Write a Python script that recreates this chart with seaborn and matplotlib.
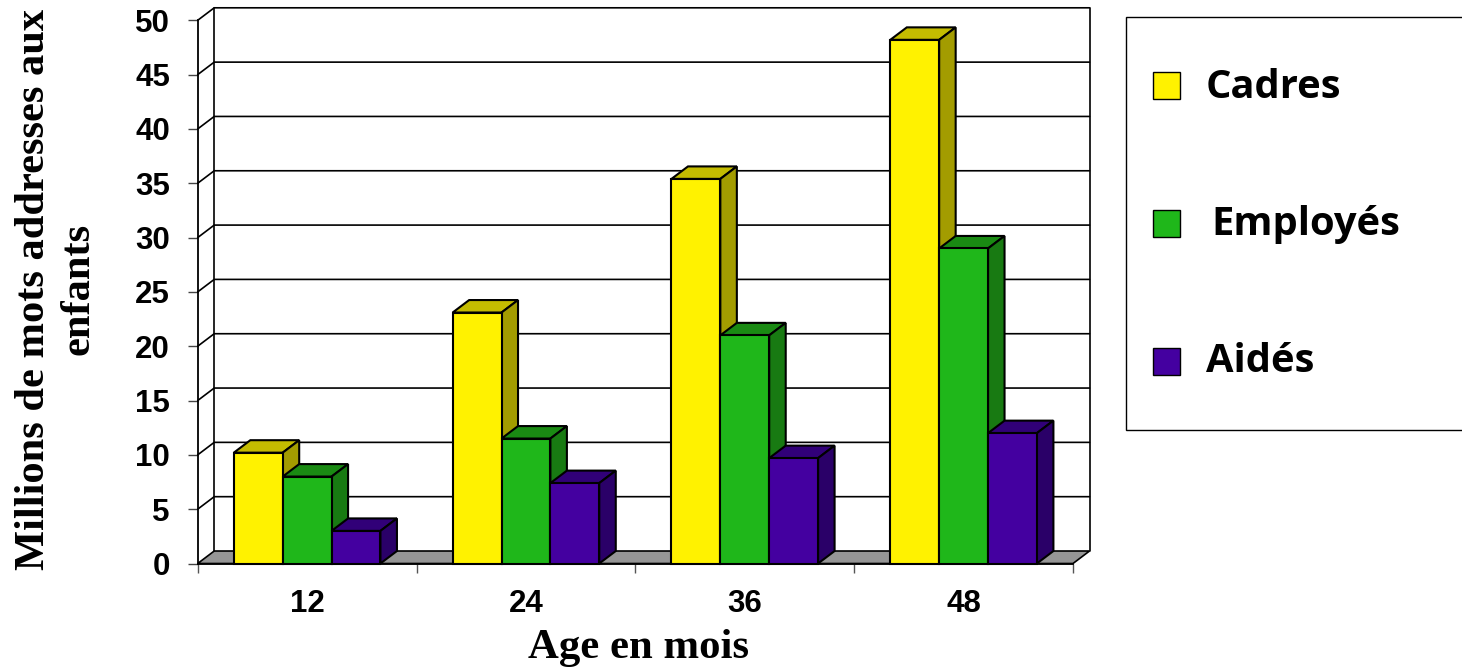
import pandas as pd
import seaborn as sns
import matplotlib.pyplot as plt
from matplotlib.patches import Polygon, Rectangle

ages = ['12', '24', '36', '48']
groups = ['Cadres', 'Employés', 'Aidés']
cadres = [10.2, 23.1, 35.4, 48.2]
employes = [8.0, 11.5, 21.0, 29.0]
aides = [3.0, 7.4, 9.7, 12.0]
y_ticks = [0, 5, 10, 15, 20, 25, 30, 35, 40, 45, 50]

front_colors = ['#FFF200', '#1FB71A', '#4400A0']
top_colors = ['#C4BC00', '#1A8A13', '#310078']
side_colors = ['#A39C00', '#187A12', '#2A0068']

W, H = 1462, 668
# 3d depth in data units
dx = 0.0755
dy = 1.15
line_w = 1.5

sns.set_theme(style='white')
plt.rcParams['font.family'] = ['Liberation Sans']

df = pd.DataFrame({
    'age': ages * 3,
    'group': [g for g in groups for _ in ages],
    'value': cadres + employes + aides,
})

fig = plt.figure(figsize=(W / 100, H / 100), dpi=100)
ax = fig.add_axes([197.7 / W, (H - 563.5) / H, 875.3 / W, 543.2 / H])

sns.barplot(data=df, x='age', y='value', hue='group', order=ages, hue_order=groups,
            palette=front_colors, saturation=1, width=0.67, gap=0, edgecolor='black',
            linewidth=line_w, legend=False, ax=ax)

ax.set_xlim(-0.5, 3.5)
ax.set_ylim(0, 50)
x0, x1 = ax.get_xlim()
lo, hi = ax.get_ylim()

# floor and walls
ax.add_patch(Polygon([(x0, lo), (x0 + dx, lo + dy), (x1 + dx, lo + dy), (x1, lo)], closed=True,
                     facecolor='#969696', edgecolor='black', linewidth=1.2, zorder=1, clip_on=False))
for t in y_ticks:
    if t > lo:
        ax.plot([x0, x0 + dx, x1 + dx], [t, t + dy, t + dy], color='black', lw=1.2,
                zorder=1.5, clip_on=False, solid_joinstyle='miter')
ax.plot([x0 + dx, x0 + dx], [lo + dy, hi + dy], color='black', lw=1.2, zorder=1.5, clip_on=False)
ax.plot([x1 + dx, x1 + dx], [lo + dy, hi + dy], color='black', lw=1.2, zorder=1.5, clip_on=False)

# top and side face of each bar, left to right so neighbours overlap properly
bars = sorted([p for p in ax.patches if isinstance(p, Rectangle) and p.get_height() > 0],
              key=lambda p: p.get_x())
for i, bar in enumerate(bars):
    left, w, h = bar.get_x(), bar.get_width(), bar.get_height()
    right = left + w
    z = 3 + i
    g = i % 3
    bar.set_zorder(z + 0.5)
    bar.set_clip_on(False)
    ax.add_patch(Polygon([(left, h), (left + dx, h + dy), (right + dx, h + dy), (right, h)], closed=True,
                         facecolor=top_colors[g], edgecolor='black', linewidth=line_w, zorder=z, clip_on=False))
    ax.add_patch(Polygon([(right, 0), (right + dx, dy), (right + dx, h + dy), (right, h)], closed=True,
                         facecolor=side_colors[g], edgecolor='black', linewidth=line_w, zorder=z, clip_on=False))

sns.despine(ax=ax, top=True, right=True)
for s in ['left', 'bottom']:
    ax.spines[s].set_color('black')
    ax.spines[s].set_linewidth(1.3)
    ax.spines[s].set_zorder(30)

ax.set_yticks(y_ticks)
ax.set_yticklabels(y_ticks, fontsize=22.5, fontweight='bold', color='black')
ax.tick_params(axis='y', left=True, length=7, width=1, color='#444444', pad=13)
ax.set_xticks(range(len(ages)))
ax.set_xticklabels(ages, fontsize=22.5, fontweight='bold', color='black')
ax.set_xticks([x0 + i for i in range(len(ages) + 1)], minor=True)
ax.tick_params(axis='x', which='major', bottom=False, pad=12)
ax.tick_params(axis='x', which='minor', bottom=True, length=6.5, width=1, color='#555555')

ax.set_xlabel('')
ax.set_ylabel('')
fig.text(638 / W, 1 - 648 / H, 'Age en mois', family='Liberation Serif', fontweight='bold',
         fontsize=30.8, ha='center', va='center', color='black')
fig.text(56 / W, 1 - 289 / H, 'Millions de mots addresses aux\nenfants', family='Liberation Serif',
         fontweight='bold', fontsize=30.6, rotation=90, ha='center', va='center',
         multialignment='center', linespacing=1.22, color='black')

# legend box runs off the right edge like the original
fig.add_artist(Rectangle((1126 / W, 1 - 430 / H), 400 / W, 413 / H, transform=fig.transFigure,
                         facecolor='white', edgecolor='black', linewidth=1.0))
legend_rows = [(72, 88, 1206), (210, 225, 1211), (348, 361, 1206)]
for (swatch_top, text_y, text_x), name, color in zip(legend_rows, groups, front_colors):
    fig.add_artist(Rectangle((1153 / W, 1 - (swatch_top + 27) / H), 27 / W, 27 / H, transform=fig.transFigure,
                             facecolor=color, edgecolor='black', linewidth=1.0))
    fig.text(text_x / W, 1 - text_y / H, name, family='Open Sans', fontweight='bold', fontsize=28.7,
             ha='left', va='center', color='black')

fig.savefig('out.png', dpi=100)
